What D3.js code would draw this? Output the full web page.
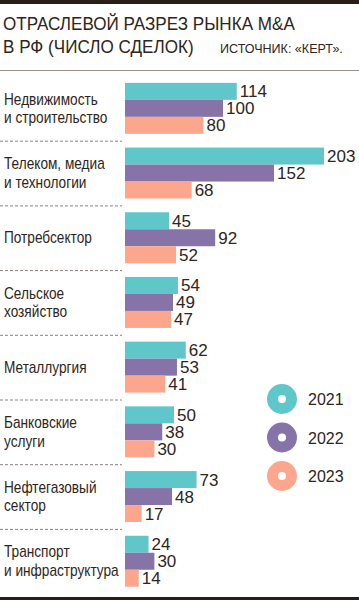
<!DOCTYPE html>
<meta charset="utf-8">
<script src="https://d3js.org/d3.v7.min.js"></script>
<body style="margin:0;background:#fff">
<div id="chart"></div>
</body>
<script>
  // data
  const categories = [
    ["Недвижимость", "и строительство"],
    ["Телеком, медиа", "и технологии"],
    ["Потребсектор"],
    ["Сельское", "хозяйство"],
    ["Металлургия"],
    ["Банковские", "услуги"],
    ["Нефтегазовый", "сектор"],
    ["Транспорт", "и инфраструктура"]
  ];
  const years = ["2021", "2022", "2023"];
  const values2021 = [114, 203, 45, 54, 62, 50, 73, 24];
  const values2022 = [100, 152, 92, 49, 53, 38, 48, 30];
  const values2023 = [80, 68, 52, 47, 41, 30, 17, 14];
  const colors = ["#5fc7ca", "#8673a8", "#fca78d"];

  const width = 359, height = 600;
  const ink = "#2e2520";
  const plain = "'Liberation Sans', Arial, sans-serif";

  const svg = d3.select("#chart").append("svg")
    .attr("width", width).attr("height", height);

  // squeeze a text group horizontally so a reference node fits a given width
  function squeeze(gSel, refNode, target) {
    const w = refNode.getComputedTextLength();
    const k = target / w;
    const t = gSel.attr("data-t");
    gSel.attr("transform", `${t} scale(${k},1)`);
  }

  // top and bottom rules
  svg.append("rect").attr("x", 0).attr("y", 0).attr("width", width).attr("height", 4).attr("fill", "#2b1e16");
  svg.append("rect").attr("x", 0).attr("y", 597).attr("width", width).attr("height", 3).attr("fill", "#2b1e16");
  svg.append("line").attr("x1", 0).attr("x2", width).attr("y1", 70.5).attr("y2", 70.5)
    .attr("stroke", "#9a918c").attr("stroke-width", 1);

  // title
  const tg = svg.append("g").attr("data-t", "translate(3,0)").attr("transform", "translate(3,0)");
  const t1 = tg.append("text").attr("y", 30.5).text("ОТРАСЛЕВОЙ РАЗРЕЗ РЫНКА M&A")
    .style("font", "18px " + plain).attr("fill", ink);
  tg.append("text").attr("y", 53).text("В РФ (ЧИСЛО СДЕЛОК)")
    .style("font", "18px " + plain).attr("fill", ink);
  squeeze(tg, t1.node(), 292);

  const sg = svg.append("g").attr("data-t", "translate(220,0)").attr("transform", "translate(220,0)");
  const s1 = sg.append("text").attr("y", 53).text("ИСТОЧНИК: «КЕРТ».")
    .style("font", "13.5px " + plain).attr("fill", ink);
  squeeze(sg, s1.node(), 123);

  const idx = d3.range(categories.length);
  const y0 = d3.scaleBand().domain(idx).range([76, 593.6])
    .paddingInner(0.212).paddingOuter(0.106);
  const y1 = d3.scaleBand().domain(years).range([0, y0.bandwidth()]);
  const x = d3.scaleLinear().domain([0, d3.max(values2021)]).range([125, 324]);

  const series = [values2021, values2022, values2023];
  const rows = idx.map(i => years.map((yr, j) => ({i, yr, j, v: series[j][i]})));

  // dashed separators
  svg.selectAll("line.sep").data(idx.slice(1)).join("line")
    .attr("class", "sep")
    .attr("x1", 0).attr("x2", 122)
    .attr("y1", i => y0(i) - y0.step() * y0.paddingInner() / 2 + 0.5)
    .attr("y2", i => y0(i) - y0.step() * y0.paddingInner() / 2 + 0.5)
    .attr("stroke", "#8a817c").attr("stroke-dasharray", "3,2").attr("stroke-width", 1);

  const g = svg.selectAll("g.grp").data(rows).join("g")
    .attr("class", "grp")
    .attr("transform", (d, i) => `translate(0,${y0(i)})`);

  g.selectAll("rect").data(d => d).join("rect")
    .attr("x", x(0))
    .attr("y", d => y1(d.yr))
    .attr("width", d => x(d.v) - x(0))
    .attr("height", y1.bandwidth())
    .attr("fill", d => colors[d.j]);

  g.selectAll("text.val").data(d => d).join("text")
    .attr("class", "val")
    .attr("x", d => x(d.v) + 3)
    .attr("y", d => y1(d.yr) + y1.bandwidth() / 2 + 6)
    .text(d => d.v)
    .style("font", "17px " + plain).attr("fill", ink);

  // category labels
  const cg = svg.append("g").attr("data-t", "translate(4,0)").attr("transform", "translate(4,0)");
  const cats = cg.selectAll("text.cat").data(categories).join("text")
    .attr("class", "cat")
    .attr("y", (d, i) => y0(i) + y0.bandwidth() / 2 + 5.5 - (d.length - 1) * 9.25)
    .style("font", "16px " + plain).attr("fill", ink);
  cats.selectAll("tspan").data(d => d).join("tspan")
      .attr("x", 0).attr("dy", (d, k) => k ? 18.5 : 0)
      .text(d => d);
  squeeze(cg, cats.node().firstChild, 94);

  // legend
  const lg = svg.selectAll("g.leg").data(years).join("g")
    .attr("class", "leg")
    .attr("transform", (d, i) => `translate(282,${399 + i * 38.5})`);
  lg.append("circle").attr("r", 15).attr("fill", (d, i) => colors[i]);
  lg.append("circle").attr("r", 4).attr("fill", "#fff");
  lg.append("text").attr("x", 26).attr("y", 6).text(d => d)
    .style("font", "16px " + plain).attr("fill", ink);
</script>
